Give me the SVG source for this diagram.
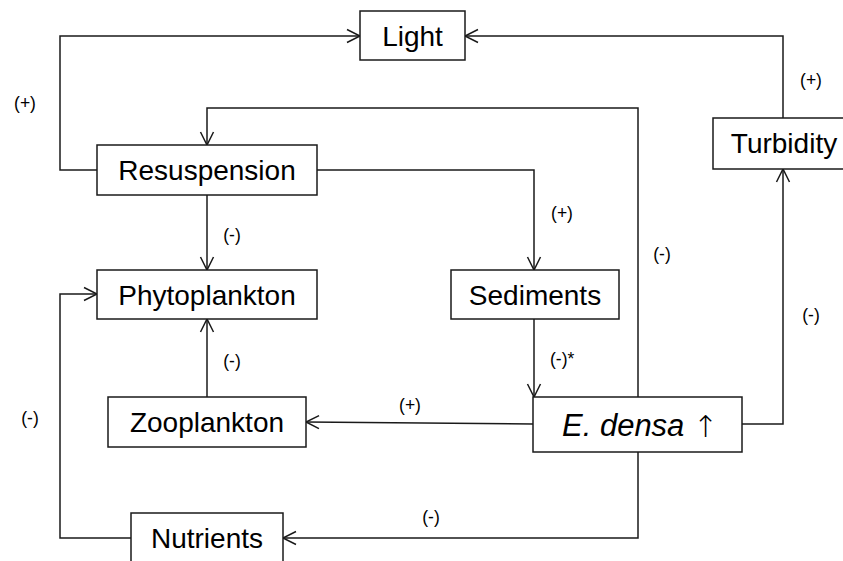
<svg xmlns="http://www.w3.org/2000/svg" width="843" height="561" viewBox="0 0 843 561">
<defs>
<marker id="arr" markerUnits="userSpaceOnUse" markerWidth="16" markerHeight="16" refX="13" refY="6.5" orient="auto" overflow="visible">
<path d="M0,0 L13,6.5 L0,13" fill="none" stroke="#1a1a1a" stroke-width="1.5"/>
</marker>
<style>
.box{fill:#fff;stroke:#1a1a1a;stroke-width:1.5}
.nt{font-family:"Liberation Sans",Arial,sans-serif;font-size:28px;fill:#000;text-anchor:middle}
.lb{font-family:"Liberation Sans",Arial,sans-serif;font-size:17.5px;fill:#000;text-anchor:middle}
.c{fill:none;stroke:#1a1a1a;stroke-width:1.5;marker-end:url(#arr)}
</style>
</defs>
<rect width="843" height="561" fill="#fff"/>
<g id="connectors">
<path class="c" d="M97,170 H60 V36 H360"/>
<path class="c" d="M783,118 V36 H465"/>
<path class="c" d="M638,397 V108 H207 V145"/>
<path class="c" d="M317,170 H534 V270"/>
<path class="c" d="M207,195 V270"/>
<path class="c" d="M534,319 V397"/>
<path class="c" d="M207,397 V319"/>
<path class="c" d="M533,424 L306,422"/>
<path class="c" d="M742,424 H783 V169"/>
<path class="c" d="M638,452 V538 H283"/>
<path class="c" d="M131,538 H60 V294 H97"/>
</g>
<g id="labels">
<text class="lb" x="25" y="109">(+)</text>
<text class="lb" x="811" y="86">(+)</text>
<text class="lb" x="232" y="241">(-)</text>
<text class="lb" x="562" y="219">(+)</text>
<text class="lb" x="662" y="260">(-)</text>
<text class="lb" x="811" y="321">(-)</text>
<text class="lb" x="550" y="365" style="text-anchor:start">(-)*</text>
<text class="lb" x="232" y="367">(-)</text>
<text class="lb" x="410" y="411">(+)</text>
<text class="lb" x="30" y="424">(-)</text>
<text class="lb" x="431" y="523">(-)</text>
</g>
<g id="light"><rect class="box" x="360" y="11" width="105" height="49"/><text class="nt" x="412.5" y="46">Light</text></g>
<g id="resuspension"><rect class="box" x="97" y="145" width="220" height="50"/><text class="nt" x="207" y="180">Resuspension</text></g>
<g id="turbidity"><rect class="box" x="713" y="118" width="150" height="51"/><text class="nt" x="784" y="153">Turbidity</text></g>
<g id="phytoplankton"><rect class="box" x="97" y="270" width="220" height="49"/><text class="nt" x="207" y="305">Phytoplankton</text></g>
<g id="sediments"><rect class="box" x="451" y="270" width="168" height="49"/><text class="nt" x="535" y="305">Sediments</text></g>
<g id="zooplankton"><rect class="box" x="108" y="397" width="198" height="50"/><text class="nt" x="207" y="432">Zooplankton</text></g>
<g id="edensa"><rect class="box" x="533" y="397" width="209" height="55"/><text class="nt" x="562" y="436" style="font-size:31px;text-anchor:start"><tspan font-style="italic">E. densa</tspan> <tspan font-family="'DejaVu Sans',sans-serif" font-size="30px" font-weight="200" dy="1">↑</tspan></text></g>
<g id="nutrients"><rect class="box" x="131" y="513" width="152" height="60"/><text class="nt" x="207" y="548">Nutrients</text></g>
</svg>
